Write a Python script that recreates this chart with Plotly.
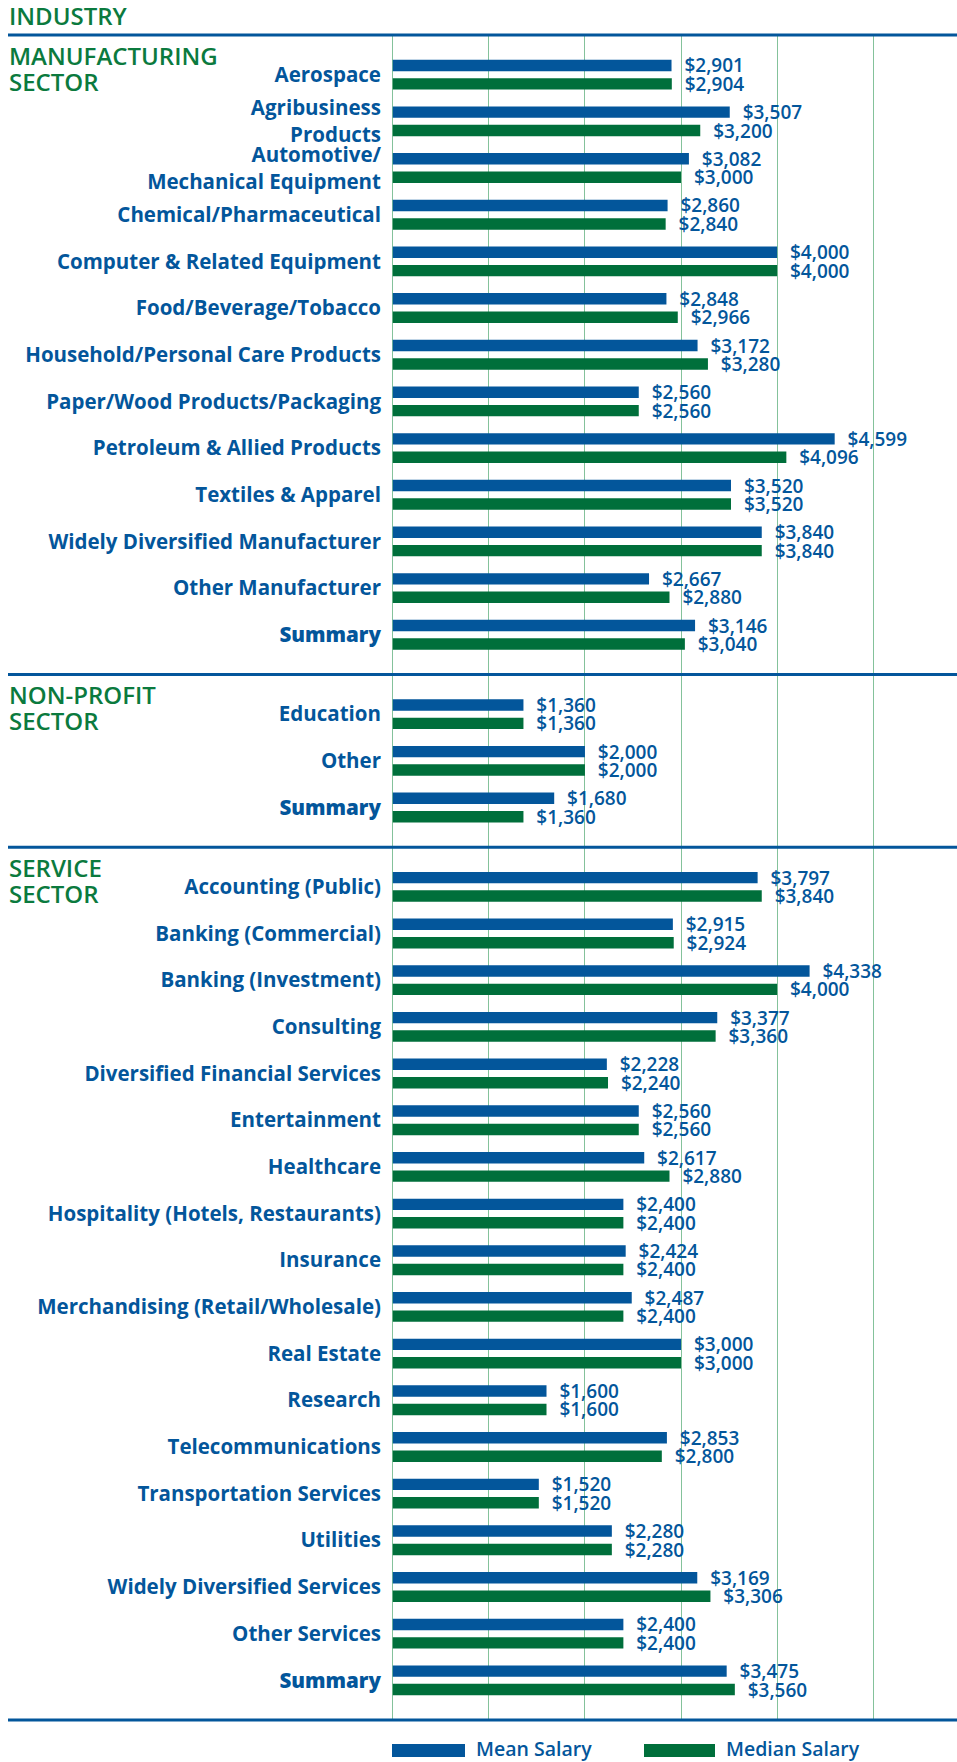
import numpy as np
import plotly.graph_objects as go

# ---- data ---------------------------------------------------------------
SUMMARY = '<span style="font-weight:800">Summary</span>'

mfg_labels = [
    "Aerospace", "Agribusiness<br>Products", "Automotive/<br>Mechanical Equipment",
    "Chemical/Pharmaceutical", "Computer & Related Equipment", "Food/Beverage/Tobacco",
    "Household/Personal Care Products", "Paper/Wood Products/Packaging",
    "Petroleum & Allied Products", "Textiles & Apparel", "Widely Diversified Manufacturer",
    "Other Manufacturer", SUMMARY,
]
mfg_mean = [2901, 3507, 3082, 2860, 4000, 2848, 3172, 2560, 4599, 3520, 3840, 2667, 3146]
mfg_median = [2904, 3200, 3000, 2840, 4000, 2966, 3280, 2560, 4096, 3520, 3840, 2880, 3040]

nonprofit_labels = ["Education", "Other", SUMMARY]
nonprofit_mean = [1360, 2000, 1680]
nonprofit_median = [1360, 2000, 1360]

service_labels = [
    "Accounting (Public)", "Banking (Commercial)", "Banking (Investment)", "Consulting",
    "Diversified Financial Services", "Entertainment", "Healthcare",
    "Hospitality (Hotels, Restaurants)", "Insurance", "Merchandising (Retail/Wholesale)",
    "Real Estate", "Research", "Telecommunications", "Transportation Services",
    "Utilities", "Widely Diversified Services", "Other Services", SUMMARY,
]
service_mean = [3797, 2915, 4338, 3377, 2228, 2560, 2617, 2400, 2424, 2487, 3000, 1600,
                2853, 1520, 2280, 3169, 2400, 3475]
service_median = [3840, 2924, 4000, 3360, 2240, 2560, 2880, 2400, 2400, 2400, 3000, 1600,
                  2800, 1520, 2280, 3306, 2400, 3560]

section_titles = [("MANUFACTURING", "SECTOR"), ("NON-PROFIT", "SECTOR"), ("SERVICE", "SECTOR")]
header_title = "INDUSTRY"
series_names = ["Mean Salary", "Median Salary"]
grid_ticks = [0, 1000, 2000, 3000, 4000, 5000]

# ---- look ---------------------------------------------------------------
W, H = 957, 1762
PLOT_L, PLOT_T, PLOT_B = 392, 35, 1720
BLUE = "#03569b"
GREEN = "#006f3b"
TITLE_GREEN = "#0b7a3e"
GRID = "#84c29b"
FONT = "Open Sans"
PAD = 0.85  # half gap (in rows) around each section

sections = [
    (mfg_labels, mfg_mean, mfg_median),
    (nonprofit_labels, nonprofit_mean, nonprofit_median),
    (service_labels, service_mean, service_median),
]

ys, labels, means, medians, bounds = [], [], [], [], [0.0]
start = 0.0
for lab, mn, md in sections:
    pos = start + PAD + np.arange(len(lab))
    ys.extend(pos.tolist())
    labels.extend(lab)
    means.extend(mn)
    medians.extend(md)
    start = pos[-1] + PAD
    bounds.append(start)
total = bounds[-1]


def px_x(x):
    return (x - PLOT_L) / (W - PLOT_L)


def px_y(y):
    return (PLOT_B - y) / (PLOT_B - PLOT_T)


def unit_to_px(u):
    return PLOT_T + u / total * (PLOT_B - PLOT_T)


fig = go.Figure()
for name, vals, color in [(series_names[0], means, BLUE), (series_names[1], medians, GREEN)]:
    fig.add_trace(
        go.Bar(
            y=ys,
            x=vals,
            orientation="h",
            name=name,
            marker=dict(color=color, line=dict(width=0)),
            texttemplate="\u00a0\u00a0$%{x:,}",
            textposition="outside",
            constraintext="none",
            cliponaxis=False,
            textfont=dict(family=FONT, size=19, color=BLUE, weight=600),
            showlegend=False,
            hoverinfo="skip",
        )
    )

shapes = []
annotations = []

# section separators
for b in bounds:
    yp = px_y(unit_to_px(b))
    shapes.append(dict(type="line", xref="paper", yref="paper", x0=px_x(8), x1=1,
                       y0=yp, y1=yp, line=dict(color=BLUE, width=3)))

# section titles
for (l1, l2), b in zip(section_titles, bounds[:-1]):
    top = unit_to_px(b)
    for txt, off in [(l1, 20.5), (l2, 46.5)]:
        annotations.append(dict(text=txt, xref="paper", yref="paper", x=px_x(7),
                                y=px_y(top + off), xanchor="left", yanchor="middle",
                                showarrow=False,
                                font=dict(family=FONT, size=24, color=TITLE_GREEN, weight=600)))

annotations.append(dict(text=header_title, xref="paper", yref="paper", x=px_x(7),
                        y=px_y(15.5), xanchor="left", yanchor="middle", showarrow=False,
                        font=dict(family=FONT, size=24, color=TITLE_GREEN, weight=600)))

# legend drawn by hand (wide swatches)
for name, color, x0, x1, xt in [(series_names[0], BLUE, 392, 465, 474),
                                (series_names[1], GREEN, 644, 715, 724)]:
    shapes.append(dict(type="rect", xref="paper", yref="paper", x0=px_x(x0), x1=px_x(x1),
                       y0=px_y(1757), y1=px_y(1744), fillcolor=color, line=dict(width=0)))
    annotations.append(dict(text=name, xref="paper", yref="paper", x=px_x(xt),
                            y=px_y(1748.5), xanchor="left", yanchor="middle", showarrow=False,
                            font=dict(family=FONT, size=19.5, color=BLUE, weight=600)))

fig.update_layout(
    width=W,
    height=H,
    margin=dict(l=PLOT_L, r=0, t=PLOT_T, b=H - PLOT_B, autoexpand=False),
    paper_bgcolor="white",
    plot_bgcolor="white",
    barmode="group",
    bargap=0.21,
    bargroupgap=0.38,
    shapes=shapes,
    annotations=annotations,
    xaxis=dict(
        range=[-8, 5872],
        tickvals=grid_ticks,
        showticklabels=False,
        showgrid=True,
        gridcolor=GRID,
        gridwidth=1,
        zeroline=True,
        zerolinecolor=GRID,
        zerolinewidth=1,
        fixedrange=True,
    ),
    yaxis=dict(
        range=[total, 0],
        tickvals=ys,
        ticktext=labels,
        showgrid=False,
        zeroline=False,
        ticks="",
        ticklabelstandoff=10,
        automargin=False,
        tickfont=dict(family=FONT, size=20.5, color=BLUE, weight=700),
        fixedrange=True,
    ),
)

# the page's default body margin would push the figure 8px right and down
fig.write_html(
    "out.html",
    config={"displayModeBar": False},
    post_script="document.body.style.margin='0';",
)
